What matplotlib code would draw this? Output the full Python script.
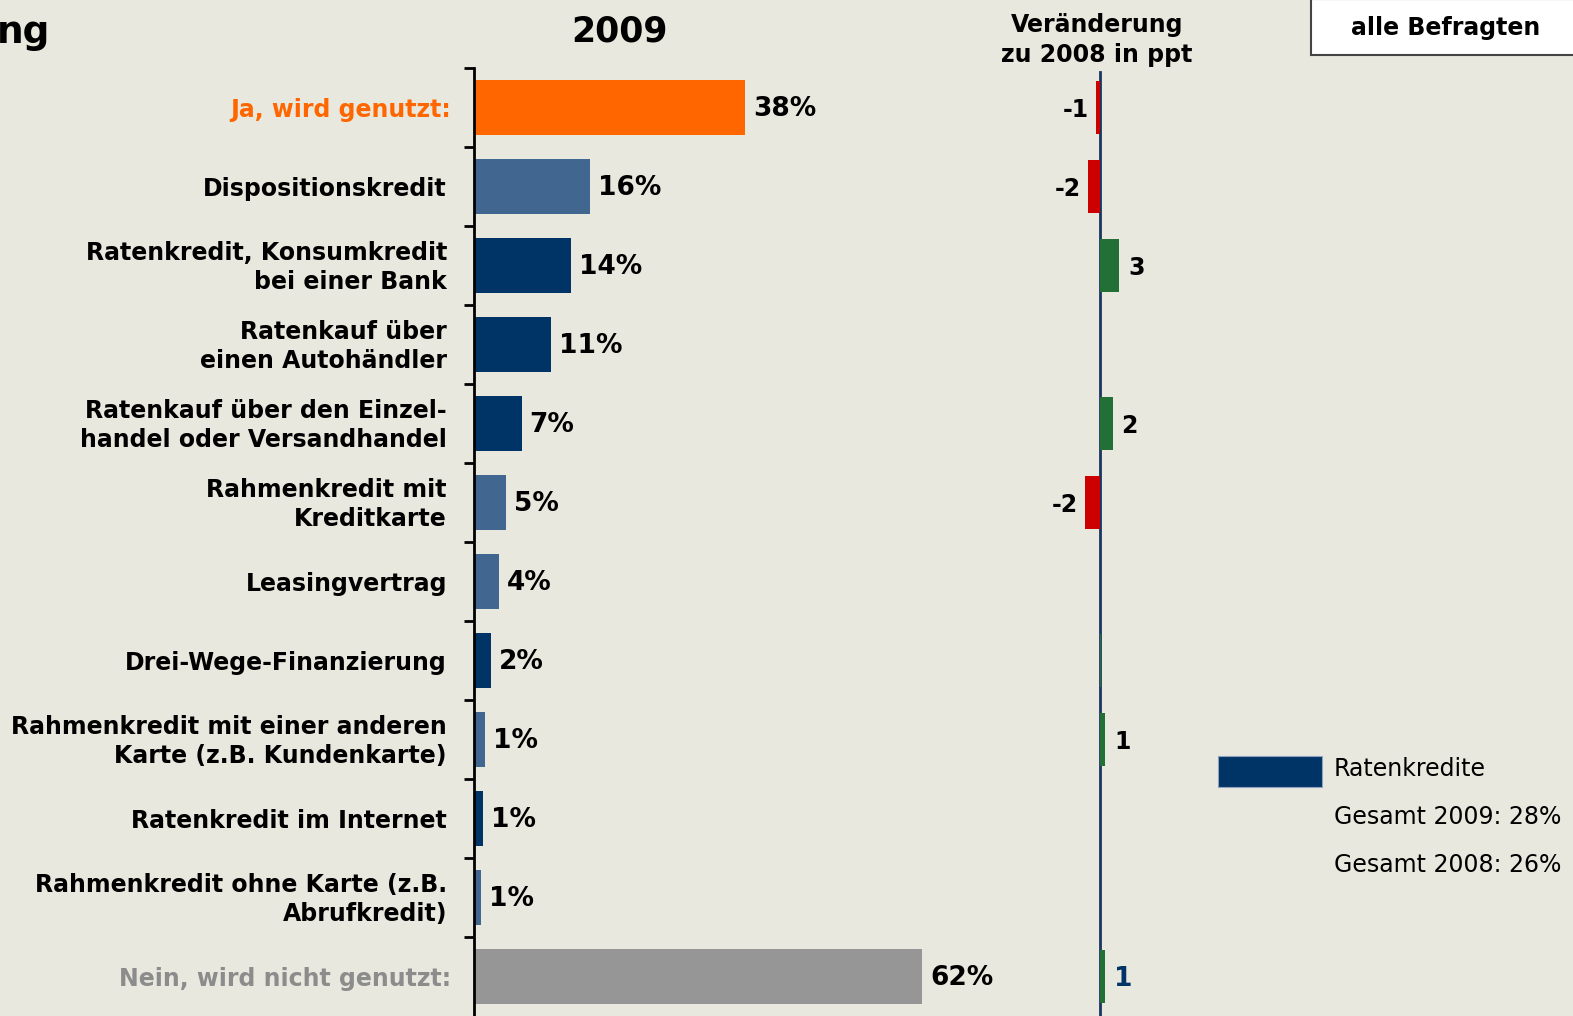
import matplotlib
matplotlib.use("Agg")
import matplotlib.pyplot as plt
import matplotlib.patches as mpatches
import matplotlib.transforms as mtransforms

# Data
categories = [
    "Ja, wird genutzt:",
    "Dispositionskredit",
    "Ratenkredit, Konsumkredit\nbei einer Bank",
    "Ratenkauf über\neinen Autohändler",
    "Ratenkauf über den Einzel-\nhandel oder Versandhandel",
    "Rahmenkredit mit\nKreditkarte",
    "Leasingvertrag",
    "Drei-Wege-Finanzierung",
    "Rahmenkredit mit einer anderen\nKarte (z.B. Kundenkarte)",
    "Ratenkredit im Internet",
    "Rahmenkredit ohne Karte (z.B.\nAbrufkredit)",
    "Nein, wird nicht genutzt:",
]
values_2009 = [37.5, 16.0, 13.4, 10.6, 6.6, 4.4, 3.5, 2.3, 1.5, 1.3, 1.0, 62.0]
value_labels = ["38%", "16%", "14%", "11%", "7%", "5%", "4%", "2%", "1%", "1%", "1%", "62%"]

change_rows = [0, 1, 2, 4, 5, 7, 8, 11]
change_values = [-0.6, -1.9, 3.0, 2.0, -2.4, 0.2, 0.8, 0.8]
change_labels = ["-1", "-2", "3", "2", "-2", "", "1", "1"]

legend_lines = ["Ratenkredite", "Gesamt 2009: 28%", "Gesamt 2008: 26%"]

# Colours
BG = "#E9E8DE"
ORANGE = "#FF6600"
LIGHT = "#41668F"
NAVY = "#003366"
GREY = "#969696"
RED = "#CC0000"
GREEN = "#227035"

bar_colors = [ORANGE, LIGHT, NAVY, NAVY, NAVY, LIGHT, LIGHT, NAVY, LIGHT, NAVY, LIGHT, GREY]
label_colors = [ORANGE] + ["black"] * 10 + ["#8C8C8C"]

plt.rcParams["font.family"] = ["DejaVu Sans"]

W, H = 1573, 1016
fig = plt.figure(figsize=(W / 100, H / 100), dpi=100)
fig.patch.set_facecolor(BG)


def fx(px):
    return px / W


def fy(py):
    return 1 - py / H


n = len(categories)
rows = list(range(n))
FS = 17

# main bar chart
ax = fig.add_axes([fx(474), 0, fx(1000) - fx(474), fy(68)])
ax.set_facecolor("none")
ax.barh(rows, values_2009, height=0.7, color=bar_colors)
ax.set_xlim(0, 526 / 7.23)
ax.set_ylim(n - 0.5, -0.5)
for s in ["top", "right", "bottom"]:
    ax.spines[s].set_visible(False)
ax.spines["left"].set_linewidth(2)
ax.set_xticks([])
ax.set_yticks([r - 0.5 for r in rows])
ax.set_yticklabels([])
ax.tick_params(axis="y", direction="out", length=7, width=2)

lbl_tr = mtransforms.blended_transform_factory(fig.transFigure, ax.transData)
for i, (cat, col) in enumerate(zip(categories, label_colors)):
    x = fx(451) if i in (0, 11) else fx(447)
    ax.annotate(cat, (x, i), xycoords=lbl_tr, xytext=(0, -2), textcoords="offset pixels",
                ha="right", va="center", fontsize=FS, fontweight="bold",
                color=col, linespacing=1.3)

for i, (v, lab) in enumerate(zip(values_2009, value_labels)):
    ax.annotate(lab, (v, i), xytext=(8, -1), textcoords="offset pixels",
                ha="left", va="center", fontsize=19, fontweight="bold")

# change column
ax2 = fig.add_axes([fx(1000), 0, fx(1200) - fx(1000), fy(68)])
ax2.set_facecolor("none")
ax2.set_xlim(-100 / 6.3, 100 / 6.3)
ax2.set_ylim(n - 0.5, -0.5)
ax2.axis("off")
ax2.axvline(0, color="#1B3560", lw=2, ymax=1 - 4 / 948)
ax2.barh(change_rows, change_values, height=0.67,
         color=[RED if v < 0 else GREEN for v in change_values], zorder=3)
for r, v, lab in zip(change_rows, change_values, change_labels):
    if not lab:
        continue
    col = NAVY if r == n - 1 else "black"
    fs = 19 if r == n - 1 else FS
    if v < 0:
        ax2.annotate(lab, (v, r), xytext=(-7, -2), textcoords="offset pixels",
                     ha="right", va="center", fontsize=fs, fontweight="bold", color=col)
    else:
        ax2.annotate(lab, (v, r), xytext=(9, -2), textcoords="offset pixels",
                     ha="left", va="center", fontsize=fs, fontweight="bold", color=col)

# headings
fig.text(fx(-3), fy(33), "ng", ha="left", va="center", fontsize=27, fontweight="bold")
fig.text(fx(620), fy(31), "2009", ha="center", va="center", fontsize=25, fontweight="bold")
fig.text(fx(1097), fy(40), "Veränderung\nzu 2008 in ppt", ha="center", va="center",
         fontsize=FS, fontweight="bold", linespacing=1.35)

box = mpatches.Rectangle((fx(1311), fy(55)), fx(1573 - 1311 + 5), 56 / H,
                         transform=fig.transFigure, facecolor="white",
                         edgecolor="#444444", lw=1.5)
fig.add_artist(box)
fig.text(fx(1446), fy(28), "alle Befragten", ha="center", va="center",
         fontsize=FS, fontweight="bold")

# legend
leg = mpatches.Rectangle((fx(1218), fy(787)), fx(104), 31 / H,
                         transform=fig.transFigure, facecolor=NAVY,
                         edgecolor="#8FA3BF", lw=0.8)
fig.add_artist(leg)
for k, line in enumerate(legend_lines):
    fig.text(fx(1334), fy(769 + 48 * k), line, ha="left", va="center", fontsize=FS)

fig.savefig("out.png", dpi=100, facecolor=BG)
